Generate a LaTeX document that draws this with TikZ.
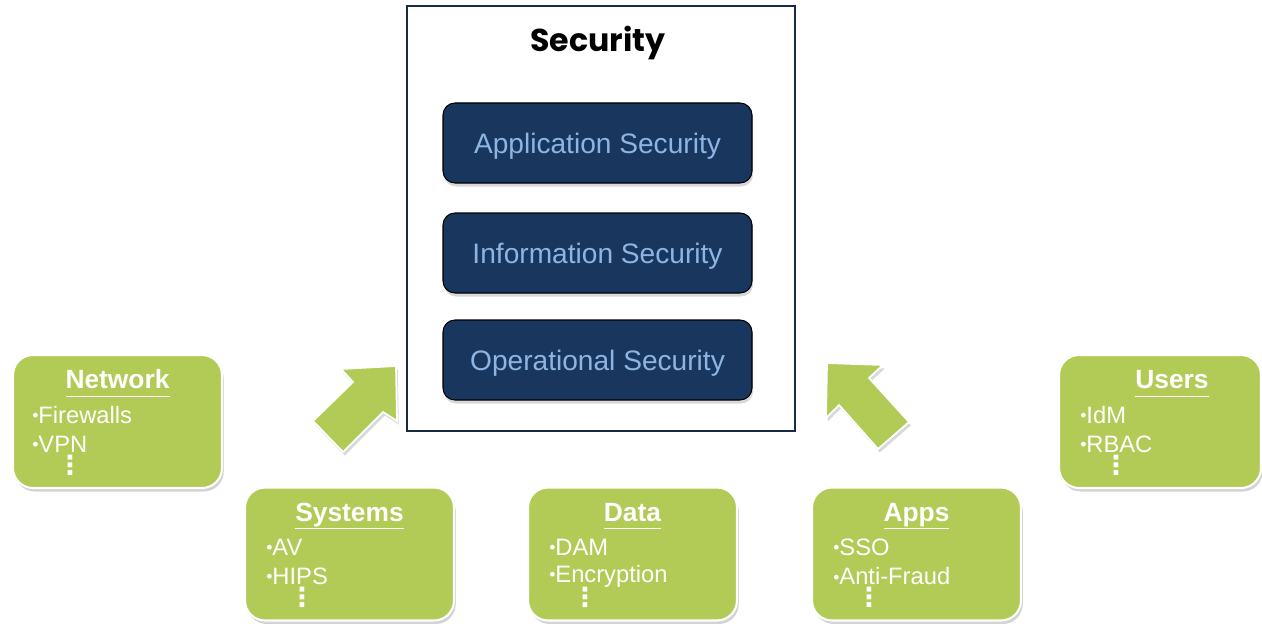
\documentclass[tikz,border=0pt]{standalone}
\usepackage{fontspec}
\setmainfont{Liberation Sans}
\newfontfamily\headfont{Poppins}
\newfontfamily\symfont{DejaVu Sans}
\usetikzlibrary{positioning,shadows}
\definecolor{navy}{RGB}{25,55,94}
\definecolor{paleblue}{RGB}{142,180,227}
\definecolor{leaf}{RGB}{177,203,86}
\definecolor{frameblue}{RGB}{25,42,70}
\newcommand{\bul}{\raisebox{0.15ex}{\fontsize{10}{10}\selectfont •}}
\newcommand{\uword}[1]{\underline{\smash{#1}\rule[-2.6pt]{0pt}{0pt}}}

\begin{document}
\begin{tikzpicture}[
    frame/.style={rectangle, draw=frameblue, line width=1.1pt, fill=white, minimum width=7.76cm, minimum height=8.5cm},
    layerbox/.style={rectangle, rounded corners=0.24cm, draw=black, line width=0.6pt, fill=navy, minimum width=6.18cm, minimum height=1.6cm, text depth=0pt, text=paleblue, font=\fontsize{16}{19}\selectfont, drop shadow={opacity=0.3, shadow xshift=0.6pt, shadow yshift=-2pt}},
    groupbox/.style={rectangle, rounded corners=0.4cm, draw=white, line width=1.2pt, fill=leaf, minimum width=4.18cm, minimum height=2.66cm, drop shadow={opacity=0.35, shadow xshift=1pt, shadow yshift=-2pt}},
    grouptitle/.style={text=white, font=\fontsize{15}{18}\selectfont\bfseries, inner sep=0pt, anchor=base},
    item/.style={text=white, font=\fontsize{13.5}{16}\selectfont, anchor=west, inner sep=0pt},
    more/.style={text=white, font=\symfont\bfseries\fontsize{15}{15}\selectfont, inner sep=0pt},
    bigarrow/.style={fill=leaf, draw=white, line width=1pt, line join=miter, drop shadow={opacity=0.3, shadow xshift=1pt, shadow yshift=-2pt}}
]
\useasboundingbox (0,0) rectangle (25.24,12.46);

% security frame
\node[frame] (sec) at (12.02, 8.09) {};
\node[font=\headfont\bfseries\fontsize{18}{21}\selectfont] (sectitle) at (11.96, 11.60) {Security};

\node[layerbox] (app) at (11.95, 9.60) {Application Security};
\node[layerbox] (info) at (11.95, 7.40) {Information Security};
\node[layerbox] (ops) at (11.95, 5.26) {Operational Security};

% green groups
\node[groupbox] (net) at (2.35, 4.03) {};
\node[grouptitle] (nettitle) at ([yshift=-0.70cm]net.north) {\uword{Network}};
\node[item] (neta) at ([xshift=0.4cm, yshift=-1.22cm]net.north west) {\bul Firewalls};
\node[item] (netb) at ([xshift=0.4cm, yshift=-1.80cm]net.north west) {\bul VPN};
\node[more] (netc) at ([xshift=1.16cm, yshift=-2.22cm]net.north west) {⋮};

\node[groupbox] (sys) at (6.99, 1.38) {};
\node[grouptitle] (systitle) at ([yshift=-0.70cm]sys.north) {\uword{Systems}};
\node[item] (sysa) at ([xshift=0.44cm, yshift=-1.22cm]sys.north west) {\bul AV};
\node[item] (sysb) at ([xshift=0.44cm, yshift=-1.80cm]sys.north west) {\bul HIPS};
\node[more] (sysc) at ([xshift=1.16cm, yshift=-2.22cm]sys.north west) {⋮};

\node[groupbox] (data) at (12.65, 1.38) {};
\node[grouptitle] (datatitle) at ([yshift=-0.70cm]data.north) {\uword{Data}};
\node[item] (dataa) at ([xshift=0.44cm, yshift=-1.22cm]data.north west) {\bul DAM};
\node[item] (datab) at ([xshift=0.44cm, yshift=-1.80cm]data.north west) {\bul Encryption};
\node[more] (datac) at ([xshift=1.16cm, yshift=-2.22cm]data.north west) {⋮};

\node[groupbox] (apps) at (18.33, 1.38) {};
\node[grouptitle] (appstitle) at ([yshift=-0.70cm]apps.north) {\uword{Apps}};
\node[item] (appsa) at ([xshift=0.44cm, yshift=-1.22cm]apps.north west) {\bul SSO};
\node[item] (appsb) at ([xshift=0.44cm, yshift=-1.80cm]apps.north west) {\bul Anti-Fraud};
\node[more] (appsc) at ([xshift=1.16cm, yshift=-2.22cm]apps.north west) {⋮};

\node[groupbox, minimum width=4.04cm] (users) at (23.20, 4.03) {};
\node[grouptitle] (userstitle) at ([xshift=0.24cm, yshift=-0.70cm]users.north) {\uword{Users}};
\node[item] (usersa) at ([xshift=0.44cm, yshift=-1.22cm]users.north west) {\bul IdM};
\node[item] (usersb) at ([xshift=0.44cm, yshift=-1.80cm]users.north west) {\bul RBAC};
\node[more] (usersc) at ([xshift=1.16cm, yshift=-2.22cm]users.north west) {⋮};

% block arrows
\draw[bigarrow] (7.92,5.14) -- (6.82,5.08) -- (7.06,4.82) -- (6.26,4.04) -- (6.86,3.42) -- (7.66,4.22) -- (7.94,4.04) -- cycle;
\draw[bigarrow] (16.54,5.20) -- (17.66,5.16) -- (17.38,4.90) -- (18.18,4.02) -- (17.56,3.48) -- (16.78,4.36) -- (16.52,4.10) -- cycle;

\end{tikzpicture}
\end{document}
